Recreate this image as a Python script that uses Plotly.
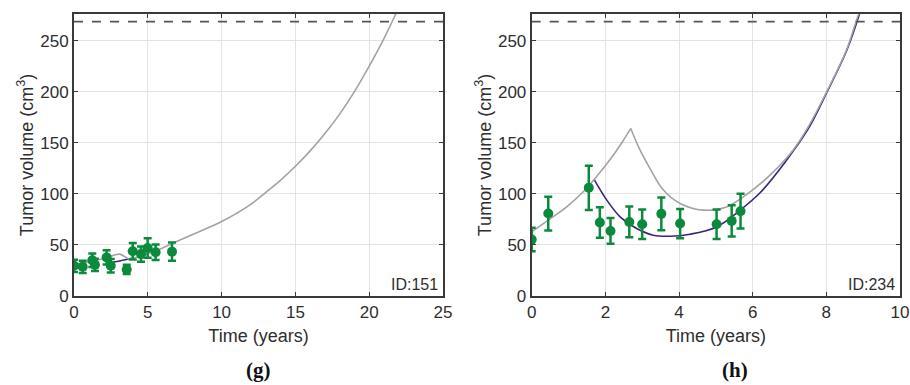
import plotly.graph_objects as go

# ---------------- Panel (g) : ID 151 ----------------
g_time = [0.0, 0.59, 1.24, 1.42, 2.21, 2.49, 3.57, 3.98, 4.54, 4.99, 5.53, 6.64]
g_vol = [29.6, 28.6, 35.0, 30.5, 37.8, 29.6, 26.0, 43.8, 41.0, 47.0, 42.8, 43.4]
g_err = [6.0, 6.0, 6.5, 6.0, 7.0, 6.5, 4.5, 8.0, 7.5, 9.5, 7.5, 9.0]

g_gray_x = [0.0, 1.0, 2.0, 3.1, 3.7, 4.5, 5.5, 6.7, 8.0, 10.0, 12.0, 13.0, 14.0, 15.0, 16.0, 17.0, 18.0, 19.0, 20.0, 21.0, 21.8, 21.9]
g_gray_y = [31.0, 33.5, 36.5, 41.0, 36.5, 39.0, 44.0, 51.7, 60.0, 72.9, 90.0, 101.5, 113.5, 127.0, 142.0, 159.0, 178.0, 200.0, 225.0, 252.0, 276.0, 279.0]
g_purple_x = [2.2, 2.8, 3.3, 3.9]
g_purple_y = [32.0, 33.5, 35.0, 37.0]

# ---------------- Panel (h) : ID 234 ----------------
h_time = [0.0, 0.45, 1.55, 1.85, 2.14, 2.65, 3.0, 3.52, 4.03, 5.02, 5.43, 5.67]
h_vol = [55.2, 80.7, 105.9, 71.9, 63.7, 72.5, 70.3, 80.4, 70.9, 70.3, 73.5, 83.0]
h_err = [11.5, 16.5, 21.7, 15.0, 12.6, 15.0, 14.4, 16.0, 14.3, 14.4, 15.2, 17.0]

h_gray_rise_x = [0.0, 0.45, 0.95, 1.4, 1.72, 2.22, 2.5, 2.69]
h_gray_rise_y = [62.7, 74.2, 87.3, 102.0, 115.0, 138.0, 153.0, 164.0]
h_gray_fall_x = [2.69, 2.94, 3.21, 3.57, 4.03, 4.66, 5.29, 5.93, 6.47, 7.1, 7.5, 8.01, 8.55, 8.87, 8.93]
h_gray_fall_y = [164.0, 143.0, 125.0, 104.0, 90.6, 84.0, 87.2, 102.0, 118.3, 143.0, 165.0, 200.0, 241.0, 275.0, 279.0]
h_purple_x = [1.69, 2.04, 2.4, 2.85, 3.3, 3.75, 4.3, 5.02, 5.66, 6.2, 6.88, 7.5, 8.01, 8.55, 8.9]
h_purple_y = [114.4, 93.8, 77.5, 66.0, 59.5, 58.5, 60.5, 67.6, 84.0, 101.0, 131.0, 163.0, 199.0, 240.0, 276.0]

threshold = 268.5
y_max = 276
GREEN = "#0c8a3c"
GRAY = "#a3a3a3"
PURPLE = "#3d2380"
AX = "#3a3a3a"
TXT = "#2e2e2e"
FONT = "Liberation Sans"

fig = go.Figure()

def add_panel(xa, ya, gx_list, purple_x, purple_y, t, v, e, xmax):
    fig.add_trace(go.Scatter(x=purple_x, y=purple_y, mode="lines", line=dict(color=PURPLE, width=1.6, shape="spline", smoothing=1.0),
                             xaxis=xa, yaxis=ya, showlegend=False))
    for gx, gy in gx_list:
        fig.add_trace(go.Scatter(x=gx, y=gy, mode="lines", line=dict(color=GRAY, width=1.6, shape="spline", smoothing=1.0),
                                 xaxis=xa, yaxis=ya, showlegend=False, hoverinfo="skip"))
    fig.add_trace(go.Scatter(x=[0, xmax], y=[threshold, threshold], mode="lines",
                             line=dict(color="#555555", width=1.6, dash="dash"), xaxis=xa, yaxis=ya, showlegend=False))
    fig.add_trace(go.Scatter(x=t, y=v, mode="markers",
                             marker=dict(color=GREEN, size=10),
                             error_y=dict(type="data", array=e, visible=True, color=GREEN, thickness=2.5, width=4),
                             xaxis=xa, yaxis=ya, showlegend=False))

add_panel("x", "y", [(g_gray_x, g_gray_y)], g_purple_x, g_purple_y, g_time, g_vol, g_err, 25)
add_panel("x2", "y2", [(h_gray_rise_x, h_gray_rise_y), (h_gray_fall_x, h_gray_fall_y)],
          h_purple_x, h_purple_y, h_time, h_vol, h_err, 10)

axis_common = dict(showline=True, linecolor=AX, linewidth=2, mirror="ticks", ticks="inside", ticklen=4,
                   tickcolor=AX, tickwidth=1, showgrid=True, gridcolor="#e3e3e3", gridwidth=1, zeroline=False,
                   automargin=False, tickfont=dict(family=FONT, size=17, color=TXT))
ytitle = dict(text="Tumor volume (cm<sup>3</sup>)", font=dict(family=FONT, size=18, color=TXT), standoff=2)
xtitle = dict(text="Time (years)", font=dict(family=FONT, size=18, color=TXT), standoff=8)

y_dom = [1 - 296 / 385, 1 - 14 / 385]
fig.update_layout(
    width=910, height=385,
    margin=dict(l=0, r=0, t=0, b=0),
    paper_bgcolor="white", plot_bgcolor="white",
    xaxis=dict(domain=[74 / 910, 443 / 910], range=[0, 25], dtick=5, anchor="y", title=xtitle, **axis_common),
    yaxis=dict(domain=y_dom, range=[0, y_max], dtick=50, anchor="x", title=ytitle, **axis_common),
    xaxis2=dict(domain=[531.7 / 910, 900 / 910], range=[0, 10], dtick=2, anchor="y2", title=xtitle, **axis_common),
    yaxis2=dict(domain=y_dom, range=[0, y_max], dtick=50, anchor="x2", title=ytitle, **axis_common),
    annotations=[
        dict(text="ID:151", x=1, y=0, xref="x domain", yref="y domain", xanchor="right", yanchor="bottom",
             xshift=-3, yshift=1, showarrow=False, font=dict(family=FONT, size=16, color=TXT)),
        dict(text="ID:234", x=1, y=0, xref="x2 domain", yref="y2 domain", xanchor="right", yanchor="bottom",
             xshift=-3, yshift=1, showarrow=False, font=dict(family=FONT, size=16, color=TXT)),
        dict(text="<b>(g)</b>", x=258 / 910, y=1 - 370 / 385, xref="paper", yref="paper", showarrow=False,
             xanchor="center", yanchor="middle",
             font=dict(family="Liberation Serif", size=21, color="#111111")),
        dict(text="<b>(h)</b>", x=735 / 910, y=1 - 370 / 385, xref="paper", yref="paper", showarrow=False,
             xanchor="center", yanchor="middle",
             font=dict(family="Liberation Serif", size=21, color="#111111")),
    ],
)

fig.write_html("out.html", config={"displayModeBar": False},
               post_script="document.body.style.margin='0px';document.body.style.overflow='hidden';")
